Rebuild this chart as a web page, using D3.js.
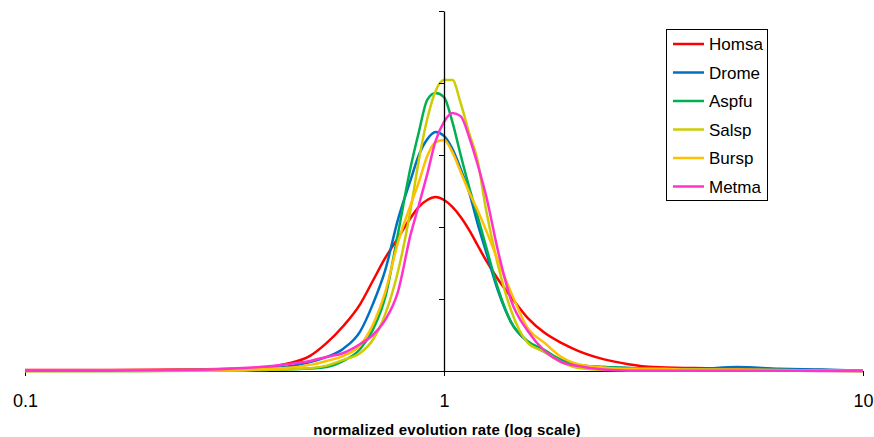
<!DOCTYPE html>
<html>
<head>
<meta charset="utf-8">
<script src="https://cdn.jsdelivr.net/npm/d3@7"></script>
<style>
  html, body { margin: 0; padding: 0; background: #fff; }
  svg { display: block; font-family: Arial, "Liberation Sans", sans-serif; }
</style>
</head>
<body>
<svg id="chart" width="874" height="437"></svg>
<script>
// Normalized evolution rate (bin centres, log-spaced)
const rates = [0.1, 0.158, 0.251, 0.316, 0.363, 0.417, 0.479, 0.525, 0.575, 0.631,
  0.676, 0.724, 0.776, 0.832, 0.871, 0.912, 0.955, 1, 1.047, 1.096,
  1.148, 1.202, 1.259, 1.349, 1.445, 1.585, 1.738, 1.905, 2.089, 2.399,
  2.754, 3.162, 3.981, 5.012, 6.31, 7.943, 10];

// Frequency (%) of genes per bin, one array per species
const homsa = [0.03, 0.03, 0.04, 0.06, 0.08, 0.19, 0.42, 0.78, 1.25, 1.86,
  2.50, 3.14, 3.69, 4.25, 4.56, 4.75, 4.83, 4.75, 4.56, 4.28,
  3.92, 3.50, 3.08, 2.53, 2.06, 1.47, 1.06, 0.78, 0.56, 0.33,
  0.19, 0.11, 0.08, 0.06, 0.04, 0.03, 0.01];
const drome = [0.01, 0.01, 0.03, 0.04, 0.06, 0.11, 0.25, 0.39, 0.62, 1.10,
  1.85, 2.80, 4.20, 5.30, 6.00, 6.44, 6.64, 6.53, 6.17, 5.61,
  4.97, 4.11, 3.33, 2.19, 1.36, 0.81, 0.53, 0.28, 0.17, 0.11,
  0.08, 0.07, 0.06, 0.11, 0.06, 0.04, 0.01];
const aspfu = [0, 0, 0.01, 0.01, 0.03, 0.04, 0.07, 0.11, 0.28, 0.61,
  1.14, 2.05, 3.80, 5.65, 6.64, 7.53, 7.72, 7.61, 6.92, 6.00,
  5.11, 4.31, 3.47, 2.25, 1.36, 0.83, 0.58, 0.31, 0.17, 0.11,
  0.08, 0.07, 0.04, 0.03, 0.03, 0.01, 0];
const salsp = [0, 0, 0.01, 0.01, 0.03, 0.04, 0.08, 0.15, 0.31, 0.50,
  0.86, 1.58, 2.75, 4.47, 5.86, 7.00, 7.78, 8.08, 8.08, 7.44,
  6.61, 5.86, 4.50, 2.89, 1.69, 0.78, 0.53, 0.25, 0.08, 0.03,
  0.03, 0.03, 0.03, 0.01, 0.01, 0.01, 0];
const bursp = [0, 0.01, 0.03, 0.04, 0.06, 0.08, 0.17, 0.28, 0.42, 0.72,
  1.28, 2.19, 3.56, 4.61, 5.25, 5.97, 6.36, 6.42, 6.08, 5.53,
  4.97, 4.47, 3.92, 3.03, 2.19, 1.19, 0.78, 0.39, 0.19, 0.10,
  0.06, 0.06, 0.04, 0.04, 0.03, 0.01, 0];
const metma = [0.01, 0.01, 0.03, 0.07, 0.11, 0.18, 0.28, 0.39, 0.50, 0.75,
  1.00, 1.42, 2.19, 3.78, 4.61, 5.47, 6.39, 6.92, 7.17, 7.08,
  6.50, 5.75, 4.89, 3.28, 1.97, 1.11, 0.56, 0.25, 0.14, 0.04,
  0.01, 0.01, 0.01, 0.01, 0.01, 0, 0];

const speciesNames = ["Homsa", "Drome", "Aspfu", "Salsp", "Bursp", "Metma"];
const speciesColors = ["#FF0000", "#0070C0", "#00B050", "#CCCC00", "#FFC000", "#FF33CC"];
const speciesValues = [homsa, drome, aspfu, salsp, bursp, metma];

const xTickValues = [0.1, 1, 10];
const yTickValues = [0, 2, 4, 6, 8, 10];
const xTitle = "normalized evolution rate (log scale)";

const svg = d3.select("#chart");

const x = d3.scaleLog().domain([0.1, 10]).range([25, 863]);
const y = d3.scaleLinear().domain([0, 10]).range([371, 11]);

// Curves
const line = d3.line()
  .x(d => x(d.rate))
  .y(d => y(d.value))
  .curve(d3.curveMonotoneX);

const series = speciesNames.map((name, i) => ({
  name,
  color: speciesColors[i],
  points: rates.map((r, j) => ({ rate: r, value: speciesValues[i][j] }))
}));

// x axis (drawn under the curves)
const xAxis = d3.axisBottom(x)
  .tickValues(xTickValues)
  .tickFormat(d => String(d))
  .tickSizeInner(5)
  .tickSizeOuter(0);
const gx = svg.append("g")
  .attr("transform", `translate(0,${y(0)})`)
  .call(xAxis);
gx.select(".domain").attr("stroke", "#000").attr("stroke-width", 1);
gx.selectAll(".tick line").attr("stroke", "#000");
gx.selectAll(".tick text")
  .attr("font-size", 18)
  .attr("font-family", "Arial, 'Liberation Sans', sans-serif")
  .attr("fill", "#000")
  .attr("y", 36)
  .attr("dy", 0);

svg.append("g")
  .selectAll("path")
  .data(series)
  .join("path")
  .attr("fill", "none")
  .attr("stroke", d => d.color)
  .attr("stroke-width", 2.5)
  .attr("stroke-linejoin", "round")
  .attr("d", d => line(d.points));

// y axis at rate = 1, no labels
const yAxis = d3.axisLeft(y)
  .tickValues(yTickValues)
  .tickFormat("")
  .tickSizeInner(5)
  .tickSizeOuter(0);
const gy = svg.append("g")
  .attr("transform", `translate(${x(1)},0)`)
  .call(yAxis);
gy.select(".domain").attr("stroke", "#000").attr("stroke-width", 1.3);
gy.selectAll(".tick line").attr("stroke", "#000");

// Axis title
svg.append("text")
  .attr("x", 447)
  .attr("y", 435)
  .attr("text-anchor", "middle")
  .attr("font-size", 15)
  .attr("font-weight", "bold")
  .attr("letter-spacing", 0.2)
  .attr("fill", "#000")
  .text(xTitle);

// Legend
const legend = svg.append("g").attr("transform", "translate(666,29)");
legend.append("rect")
  .attr("x", 0.5).attr("y", 0.5)
  .attr("width", 101).attr("height", 171)
  .attr("fill", "#fff")
  .attr("stroke", "#000")
  .attr("stroke-width", 1);
const items = legend.selectAll("g.item")
  .data(series)
  .join("g")
  .attr("class", "item")
  .attr("transform", (d, i) => `translate(0,${15 + i * 28.5})`);
items.append("line")
  .attr("x1", 7).attr("x2", 38)
  .attr("y1", 0).attr("y2", 0)
  .attr("stroke", d => d.color)
  .attr("stroke-width", 2.5);
items.append("text")
  .attr("x", 43)
  .attr("y", 0)
  .attr("dy", "0.36em")
  .attr("font-size", 17)
  .attr("fill", "#000")
  .text(d => d.name);
</script>
</body>
</html>
